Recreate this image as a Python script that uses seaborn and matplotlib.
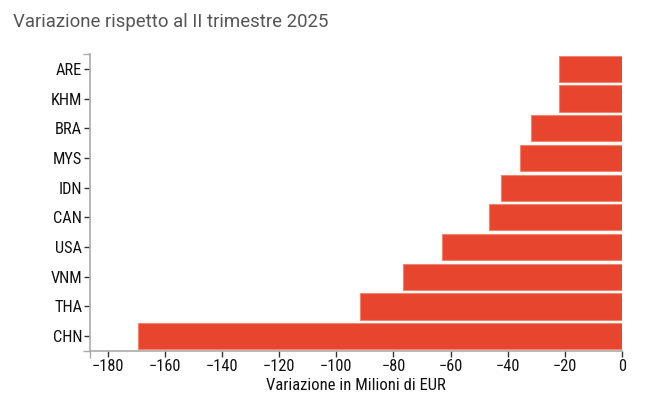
import matplotlib
matplotlib.use("Agg")
import matplotlib.pyplot as plt
from matplotlib import font_manager
import seaborn as sns
import pandas as pd

# dati: variazione rispetto al II trimestre 2025 (milioni di EUR)
paesi = ["ARE", "KHM", "BRA", "MYS", "IDN", "CAN", "USA", "VNM", "THA", "CHN"]
variazione = [-21.9, -22.2, -31.8, -35.7, -42.4, -46.7, -62.9, -76.6, -91.8, -169.3]
x_ticks = [-180, -160, -140, -120, -100, -80, -60, -40, -20, 0]

df = pd.DataFrame({"paese": paesi, "variazione": variazione})

sns.set_theme(style="white")
installed = {f.name for f in font_manager.fontManager.ttflist}
narrow = next((f for f in ["Roboto Condensed", "Liberation Sans Narrow", "Roboto"] if f in installed), "DejaVu Sans")
plt.rcParams["font.family"] = [narrow, "DejaVu Sans"]

fig = plt.figure(figsize=(6.55, 4.01), dpi=100)
ax = fig.add_axes([90 / 655, 50 / 401, 532 / 655, 297 / 401])

sns.barplot(data=df, x="variazione", y="paese", orient="h", color="#e8452f",
            saturation=1, width=0.88, edgecolor="#f2846f", linewidth=0.8, ax=ax)

x_min = min(variazione) * 1.1
ax.set_xlim(x_min, 0)
ax.set_ylim(9.5, -0.5)
ax.set_xticks(x_ticks)
ax.set_xticklabels([str(t).replace("-", "\u2212") for t in x_ticks])
# tick esterni alle estremita' degli assi
ax.set_xticks([x_min], minor=True)
ax.set_yticks([-0.5, 9.5], minor=True)

for s in ["top", "right"]:
    ax.spines[s].set_visible(False)
for s in ["left", "bottom"]:
    ax.spines[s].set_color("#aaaaaa")
    ax.spines[s].set_linewidth(1.2)

ax.tick_params(axis="both", which="major", length=4, width=1, color="#333333",
               labelsize=11.8, labelcolor="#111111", pad=1.5, bottom=True, left=True)
ax.tick_params(axis="both", which="minor", length=5, width=1, color="#aaaaaa",
               bottom=True, left=True)

ax.set_ylabel("")
ax.set_xlabel("Variazione in Milioni di EUR", fontsize=12, color="#111111", labelpad=3)

fig.text(13 / 655, 1 - 27 / 401, "Variazione rispetto al II trimestre 2025",
         fontsize=13.4, color="#555555", family=["Roboto", "DejaVu Sans"], va="baseline")

fig.savefig("out.png", dpi=100)
